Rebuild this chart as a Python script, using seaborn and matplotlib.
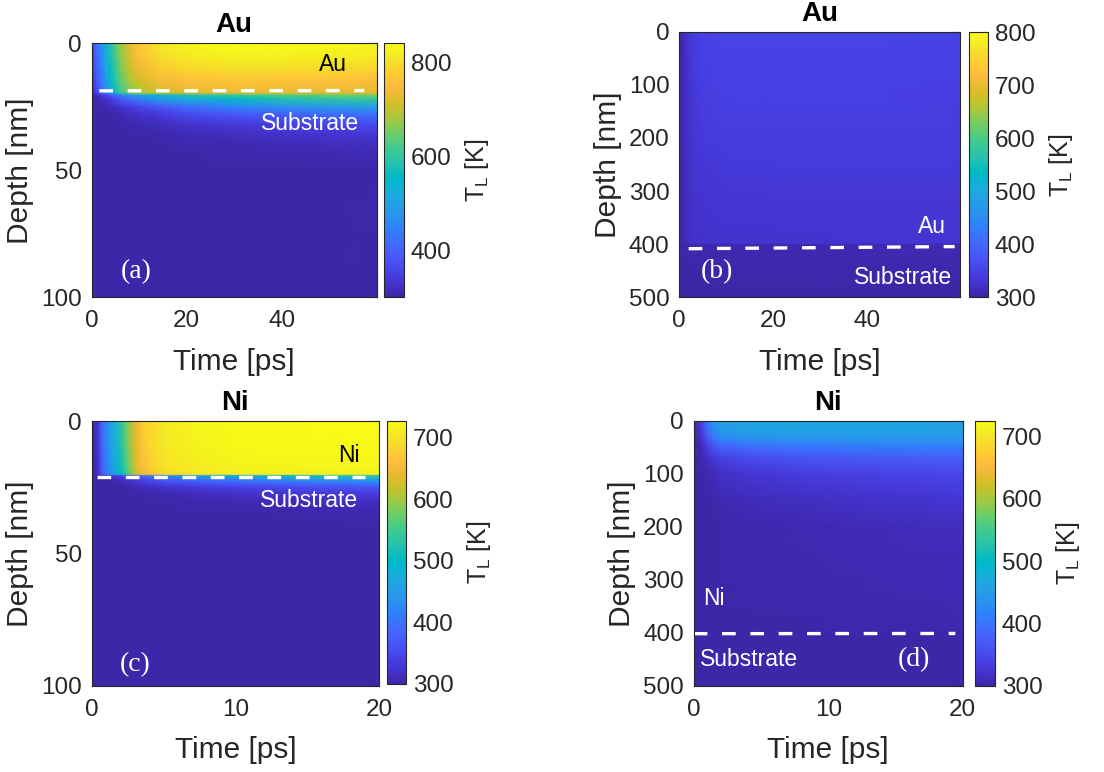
import numpy as np
import matplotlib
matplotlib.use("Agg")
import matplotlib.pyplot as plt
import seaborn as sns
from matplotlib.colors import LinearSegmentedColormap
from matplotlib.ticker import MultipleLocator

# ---------------- data ----------------
# Panel (a): Au 20 nm film, time [ps] x depth [nm], T_L [K]
time_a = [0, 0.5, 1, 2, 3, 4, 5, 6, 8, 10, 14, 20, 30, 40, 50, 60]
depth_a = [0, 5, 10, 15, 19.5, 20.5, 22, 25, 28, 32, 36, 40, 45, 50, 100]
temp_a = [  # one row per time, one column per depth
    [300, 300, 300, 300, 300, 300, 300, 300, 300, 300, 300, 300, 300, 300, 300],
    [390, 380, 365, 350, 335, 305, 302, 300, 300, 300, 300, 300, 300, 300, 300],
    [420, 410, 395, 380, 360, 315, 306, 301, 300, 300, 300, 300, 300, 300, 300],
    [470, 460, 445, 430, 405, 335, 315, 303, 300, 300, 300, 300, 300, 300, 300],
    [530, 520, 505, 490, 460, 360, 330, 308, 302, 300, 300, 300, 300, 300, 300],
    [585, 575, 560, 545, 515, 385, 345, 315, 304, 300, 300, 300, 300, 300, 300],
    [635, 625, 610, 595, 565, 415, 365, 322, 306, 301, 300, 300, 300, 300, 300],
    [675, 665, 650, 635, 605, 440, 385, 330, 310, 302, 300, 300, 300, 300, 300],
    [730, 720, 705, 685, 655, 480, 415, 345, 318, 305, 301, 300, 300, 300, 300],
    [770, 758, 738, 712, 688, 510, 445, 360, 325, 308, 302, 300, 300, 300, 300],
    [808, 795, 770, 738, 712, 545, 480, 385, 340, 315, 305, 301, 300, 300, 300],
    [832, 818, 792, 755, 728, 580, 520, 420, 365, 328, 312, 305, 301, 300, 300],
    [840, 828, 800, 762, 735, 610, 555, 450, 385, 340, 318, 308, 303, 301, 300],
    [838, 826, 798, 760, 732, 630, 580, 470, 400, 348, 324, 311, 304, 302, 300],
    [835, 822, 795, 757, 730, 645, 595, 488, 415, 356, 330, 315, 306, 302, 300],
    [830, 818, 790, 752, 726, 655, 605, 500, 425, 364, 335, 318, 308, 303, 300],
]
iface_a = [18.7, 18.6]
iface_t_a = [1.6, 57.4]

# Panel (b): Au 400 nm film
time_b = [0, 1, 2, 3, 5, 10, 20, 40, 60]
depth_b = [0, 100, 200, 300, 399, 401, 450, 500]
temp_b = [
    [300, 300, 300, 300, 300, 300, 300, 300],
    [316, 314, 312, 310, 308, 302, 300, 300],
    [330, 327, 324, 320, 316, 303, 300, 300],
    [340, 337, 332, 327, 322, 304, 301, 300],
    [348, 344, 338, 331, 325, 305, 301, 300],
    [352, 347, 340, 333, 326, 306, 302, 300],
    [352, 347, 341, 334, 327, 307, 302, 300],
    [351, 347, 341, 335, 328, 308, 303, 300],
    [350, 346, 341, 335, 329, 309, 303, 300],
]
iface_b = [408.5, 404.5]
iface_t_b = [2.0, 58.8]

# Panel (c): Ni 20 nm film
time_c = [0, 0.4, 0.7, 1.0, 1.5, 2.0, 2.5, 3.0, 3.5, 4, 5, 7, 10, 15, 20]
depth_c = [0, 10, 18, 20.3, 20.7, 22, 23.5, 25, 27, 30, 35, 40, 100]
temp_c = [
    [300, 300, 300, 300, 300, 300, 300, 300, 300, 300, 300, 300, 300],
    [322, 320, 316, 312, 302, 300, 300, 300, 300, 300, 300, 300, 300],
    [385, 380, 370, 360, 310, 302, 300, 300, 300, 300, 300, 300, 300],
    [425, 420, 410, 400, 320, 305, 300, 300, 300, 300, 300, 300, 300],
    [475, 470, 458, 448, 335, 312, 302, 300, 300, 300, 300, 300, 300],
    [525, 520, 505, 495, 350, 320, 305, 301, 300, 300, 300, 300, 300],
    [585, 580, 565, 555, 365, 330, 312, 304, 301, 300, 300, 300, 300],
    [638, 635, 620, 610, 380, 340, 318, 307, 302, 300, 300, 300, 300],
    [668, 665, 652, 642, 395, 350, 326, 312, 304, 300, 300, 300, 300],
    [688, 685, 675, 665, 410, 360, 333, 316, 306, 301, 300, 300, 300],
    [706, 704, 696, 688, 430, 378, 345, 325, 310, 302, 300, 300, 300],
    [718, 716, 710, 702, 455, 400, 358, 333, 315, 304, 300, 300, 300],
    [724, 722, 716, 708, 485, 425, 372, 342, 322, 308, 301, 300, 300],
    [727, 725, 718, 710, 515, 450, 392, 356, 332, 313, 303, 300, 300],
    [727, 725, 718, 710, 540, 470, 410, 370, 340, 318, 305, 300, 300],
]
iface_c = [21.3, 21.3]
iface_t_c = [0.35, 19.0]

# Panel (d): Ni 400 nm film
time_d = [0, 0.5, 1, 1.5, 2, 4, 7, 10, 15, 20]
depth_d = [0, 20, 35, 50, 70, 100, 150, 200, 399, 401, 500]
temp_d = [
    [300, 300, 300, 300, 300, 300, 300, 300, 300, 300, 300],
    [335, 325, 315, 308, 303, 300, 300, 300, 300, 300, 300],
    [400, 385, 360, 335, 315, 305, 301, 300, 300, 300, 300],
    [440, 425, 395, 360, 330, 312, 303, 301, 300, 300, 300],
    [455, 445, 415, 375, 340, 318, 305, 302, 300, 300, 300],
    [465, 455, 430, 390, 352, 325, 310, 304, 300, 300, 300],
    [466, 458, 435, 398, 360, 332, 314, 306, 301, 300, 300],
    [465, 458, 438, 403, 366, 337, 318, 308, 302, 300, 300],
    [463, 457, 440, 408, 372, 343, 322, 311, 303, 300, 300],
    [460, 455, 440, 410, 376, 347, 325, 313, 304, 300, 300],
]
iface_d = [401.4, 401.0]
iface_t_d = [0.0, 19.45]

# ---------------- style ----------------
parula_rgb = [
    (0.2422, 0.1504, 0.6603), (0.2504, 0.1650, 0.7076), (0.2578, 0.1818, 0.7511),
    (0.2647, 0.1978, 0.7952), (0.2706, 0.2147, 0.8364), (0.2751, 0.2342, 0.8710),
    (0.2783, 0.2559, 0.8991), (0.2803, 0.2782, 0.9221), (0.2813, 0.3006, 0.9414),
    (0.2810, 0.3228, 0.9579), (0.2795, 0.3447, 0.9717), (0.2760, 0.3667, 0.9829),
    (0.2699, 0.3892, 0.9906), (0.2602, 0.4123, 0.9952), (0.2440, 0.4358, 0.9988),
    (0.2206, 0.4603, 0.9973), (0.1963, 0.4847, 0.9892), (0.1834, 0.5074, 0.9798),
    (0.1786, 0.5289, 0.9682), (0.1764, 0.5499, 0.9520), (0.1687, 0.5703, 0.9359),
    (0.1540, 0.5902, 0.9218), (0.1460, 0.6091, 0.9079), (0.1380, 0.6276, 0.8973),
    (0.1248, 0.6459, 0.8883), (0.1113, 0.6635, 0.8763), (0.0952, 0.6798, 0.8598),
    (0.0689, 0.6948, 0.8394), (0.0297, 0.7082, 0.8163), (0.0036, 0.7203, 0.7917),
    (0.0067, 0.7312, 0.7660), (0.0433, 0.7411, 0.7394), (0.0964, 0.7500, 0.7120),
    (0.1408, 0.7584, 0.6842), (0.1717, 0.7670, 0.6554), (0.1938, 0.7758, 0.6251),
    (0.2161, 0.7843, 0.5923), (0.2470, 0.7918, 0.5567), (0.2906, 0.7973, 0.5188),
    (0.3406, 0.8008, 0.4789), (0.3909, 0.8029, 0.4354), (0.4456, 0.8024, 0.3909),
    (0.5044, 0.7993, 0.3480), (0.5616, 0.7942, 0.3045), (0.6174, 0.7876, 0.2612),
    (0.6720, 0.7793, 0.2227), (0.7242, 0.7698, 0.1910), (0.7738, 0.7598, 0.1646),
    (0.8203, 0.7498, 0.1535), (0.8634, 0.7406, 0.1596), (0.9035, 0.7330, 0.1774),
    (0.9393, 0.7288, 0.2100), (0.9728, 0.7298, 0.2394), (0.9956, 0.7434, 0.2371),
    (0.9970, 0.7659, 0.2199), (0.9952, 0.7893, 0.2028), (0.9892, 0.8136, 0.1885),
    (0.9786, 0.8386, 0.1766), (0.9676, 0.8639, 0.1643), (0.9610, 0.8890, 0.1537),
    (0.9597, 0.9135, 0.1423), (0.9628, 0.9373, 0.1265), (0.9691, 0.9606, 0.1064),
    (0.9769, 0.9839, 0.0805),
]
parula = LinearSegmentedColormap.from_list("parula", parula_rgb, N=256)

sns.set_theme(style="white")
plt.rcParams["font.family"] = ["Liberation Sans", "DejaVu Sans"]
plt.rcParams["mathtext.fontset"] = "custom"
plt.rcParams["mathtext.rm"] = "Liberation Sans"
plt.rcParams["mathtext.it"] = "Liberation Sans:italic"
plt.rcParams["axes.linewidth"] = 0.8
plt.rcParams["axes.edgecolor"] = "#262626"

TXT = "#262626"
W, H = 1104, 772
fig = plt.figure(figsize=(W / 100, H / 100), dpi=100)


def frac(x0, y0, x1, y1):
    return [x0 / W, 1 - y1 / H, (x1 - x0) / W, (y1 - y0) / H]


panels = [
    dict(t=time_a, z=depth_a, T=temp_a, clim=(300, 841), xlim=60, ylim=100,
         xticks=[0, 20, 40], xminor=5, yticks=[0, 50, 100], yminor=10,
         cticks=[400, 600, 800], title="Au",
         ax=(91.7, 43.3, 376.7, 297.3), cax=(384.3, 43.3, 404.0, 297.3),
         iface=iface_a, iface_t=iface_t_a,
         texts=[("Au", 50.7, 8.5, "black"), ("Substrate", 46.0, 31.5, "white")],
         label=("(a)", 9.3, 90.0)),
    dict(t=time_b, z=depth_b, T=temp_b, clim=(300, 800), xlim=60, ylim=500,
         xticks=[0, 20, 40], xminor=5, yticks=list(range(0, 501, 100)), yminor=20,
         cticks=list(range(300, 801, 100)), title="Au",
         ax=(679.3, 31.7, 960.3, 297.3), cax=(968.7, 32.3, 988.0, 297.3),
         iface=iface_b, iface_t=iface_t_b,
         texts=[("Au", 53.9, 366, "white"), ("Substrate", 47.7, 462, "white")],
         label=("(b)", 8.0, 452)),
    dict(t=time_c, z=depth_c, T=temp_c, clim=(300, 727), xlim=20, ylim=100,
         xticks=[0, 10, 20], xminor=2, yticks=[0, 50, 100], yminor=10,
         cticks=list(range(300, 701, 100)), title="Ni",
         ax=(91.7, 421.0, 379.0, 686.0), cax=(386.7, 421.0, 405.7, 684.0),
         iface=iface_c, iface_t=iface_t_c,
         texts=[("Ni", 17.9, 13.2, "black"), ("Substrate", 15.1, 29.9, "white")],
         label=("(c)", 3.0, 91.8)),
    dict(t=time_d, z=depth_d, T=temp_d, clim=(300, 725), xlim=20, ylim=500,
         xticks=[0, 10, 20], xminor=2, yticks=list(range(0, 501, 100)), yminor=20,
         cticks=list(range(300, 701, 100)), title="Ni",
         ax=(693.7, 420.7, 962.7, 686.0), cax=(975.3, 420.7, 994.7, 686.0),
         iface=iface_d, iface_t=iface_t_d,
         texts=[("Ni", 1.5, 334.7, "white"), ("Substrate", 4.1, 449.7, "white")],
         label=("(d)", 16.4, 450)),
]

for p in panels:
    ax = fig.add_axes(frac(*p["ax"]))
    cax = fig.add_axes(frac(*p["cax"]))
    C = np.array(p["T"], dtype=float).T
    mesh = ax.pcolormesh(p["t"], p["z"], C, shading="gouraud", cmap=parula,
                         vmin=p["clim"][0], vmax=p["clim"][1], rasterized=True)
    sns.lineplot(x=p["iface_t"], y=p["iface"], ax=ax, color="white",
                 lw=2.4, dashes=False, legend=False)
    ax.lines[-1].set_dashes((4.1, 4.4))
    ax.lines[-1].set_dash_capstyle("butt")
    ax.set_xlim(0, p["xlim"])
    ax.set_ylim(p["ylim"], 0)
    ax.set_xticks(p["xticks"])
    ax.set_yticks(p["yticks"])
    ax.xaxis.set_minor_locator(MultipleLocator(p["xminor"]))
    ax.yaxis.set_minor_locator(MultipleLocator(p["yminor"]))
    ax.tick_params(which="both", direction="in", top=True, right=True,
                   colors=TXT, labelsize=17.5, width=0.8)
    ax.tick_params(which="major", length=5)
    ax.tick_params(which="minor", length=3)
    ax.tick_params(axis="x", which="major", pad=9.5)
    ax.tick_params(axis="y", which="major", pad=7)
    ax.set_xlabel("Time [ps]", fontsize=21.5, color=TXT, labelpad=11)
    ax.set_ylabel("Depth [nm]", fontsize=21.5, color=TXT, labelpad=5)
    ax.set_title(p["title"], fontsize=20, fontweight="bold", color="black", pad=8)
    for s, x, y, c in p["texts"]:
        ax.text(x, y, s, color=c, fontsize=16.5, ha="center", va="center")
    lab, lx, ly = p["label"]
    ax.text(lx, ly, lab, color="white", fontsize=20, ha="center", va="center",
            family="Liberation Serif")
    for sp in ax.spines.values():
        sp.set_visible(True)

    cb = fig.colorbar(mesh, cax=cax)
    cb.set_ticks(p["cticks"])
    cb.outline.set_linewidth(0.8)
    cb.outline.set_edgecolor(TXT)
    cax.tick_params(direction="in", length=5, width=0.8, colors=TXT,
                    labelsize=17.5, pad=5)
    cb.set_label(r"T$_{\rm L}$ [K]", fontsize=18, color=TXT, labelpad=8)

fig.savefig("out.png", dpi=100)
